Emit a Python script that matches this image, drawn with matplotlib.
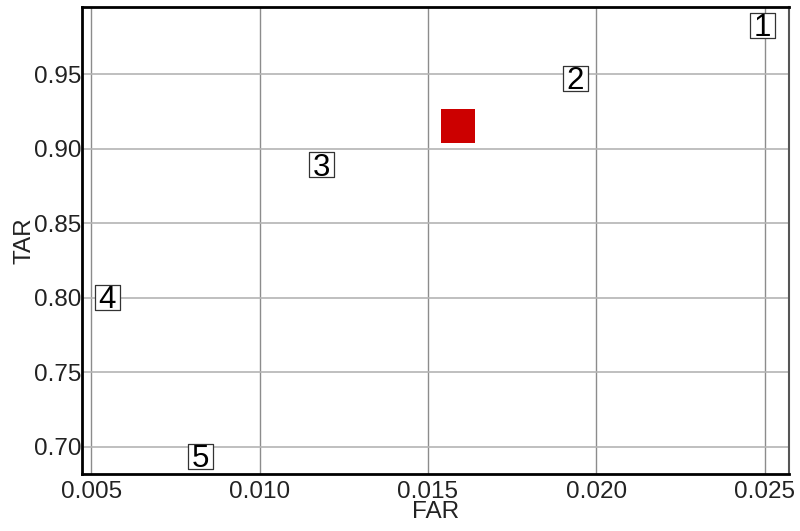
import numpy as np
import matplotlib
matplotlib.use("Agg")
import matplotlib.pyplot as plt

# dados
labels = ["1", "2", "3", "4", "5"]
far = [0.02492, 0.01937, 0.01183, 0.00547, 0.00823]
tar = [0.983, 0.9474, 0.8896, 0.8005, 0.694]
best_far = [0.0159]
best_tar = [0.9155]

plt.rcParams['font.family'] = ['Liberation Sans', 'DejaVu Sans']

fig = plt.figure(figsize=(8, 5.31), dpi=100)
ax = fig.add_axes([0.102, 0.108, 0.884, 0.878])

# grade
ax.set_xticks([0.005, 0.010, 0.015, 0.020, 0.025])
ax.set_yticks([0.70, 0.75, 0.80, 0.85, 0.90, 0.95])
ax.grid(True, axis='x', color='#8c8c8c', linewidth=1.0)
ax.grid(True, axis='y', color='#b4b4b4', linewidth=1.2)
ax.set_axisbelow(True)

# ponto destacado
ax.scatter(best_far, best_tar, marker='s', s=24.5**2, color='#cc0000',
           edgecolors='none', zorder=3)

# caixas numeradas
ax.scatter(far, tar, marker='s', s=18**2, facecolors='white',
           edgecolors='#333333', linewidths=0.9, zorder=3)
for lab, x, y in zip(labels, far, tar):
    ax.text(x, y, lab, fontsize=22.5, ha='center', va='center_baseline',
            color='black', zorder=4)

ax.set_xlim(0.004715, 0.02572)
ax.set_ylim(0.682, 0.9947)
ax.xaxis.set_major_formatter(matplotlib.ticker.FormatStrFormatter('%.3f'))
ax.yaxis.set_major_formatter(matplotlib.ticker.FormatStrFormatter('%.2f'))
ax.tick_params(length=0, labelsize=17.5, colors='#222222', pad=0)
ax.tick_params(axis='x', pad=5)

for s in ['left', 'bottom', 'top']:
    ax.spines[s].set_linewidth(2)
    ax.spines[s].set_color('black')
ax.spines['right'].set_linewidth(1.5)
ax.spines['right'].set_color('#555555')

ax.set_xlabel('FAR', fontsize=17.5, color='#222222', labelpad=-1)
ax.set_ylabel('TAR', fontsize=17.5, color='#222222', labelpad=-1)

fig.savefig('out.png', dpi=100)
